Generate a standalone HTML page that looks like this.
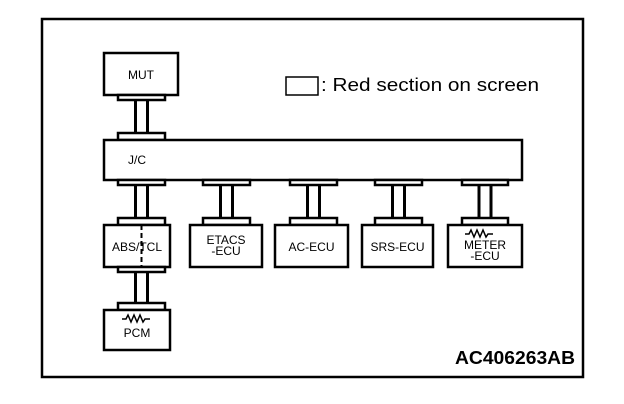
<!DOCTYPE html>
<html><head><style>body{margin:0;background:#fff}svg{display:block}</style></head><body>
<svg width="624" height="404" viewBox="0 0 624 404" xmlns="http://www.w3.org/2000/svg" font-family="Liberation Sans, sans-serif">
<rect x="42" y="19" width="541" height="358" fill="none" stroke="#000" stroke-width="2.5"/>
<g fill="#fff" stroke="#000" stroke-width="2.5">
<rect x="104" y="53" width="74" height="42"/>
<rect x="118" y="95" width="47" height="5"/>
<rect x="118" y="133" width="47" height="7"/>
<rect x="104" y="140" width="418" height="40"/>
<rect x="118" y="180" width="47" height="5"/>
<rect x="203" y="180" width="47" height="5"/>
<rect x="290" y="180" width="47" height="5"/>
<rect x="375" y="180" width="47" height="5"/>
<rect x="462" y="180" width="46" height="5"/>
<rect x="118" y="218" width="47" height="7"/>
<rect x="203" y="218" width="47" height="7"/>
<rect x="290" y="218" width="47" height="7"/>
<rect x="375" y="218" width="47" height="7"/>
<rect x="462" y="218" width="46" height="7"/>
<rect x="104" y="225" width="66" height="42"/>
<rect x="190" y="225" width="72" height="42"/>
<rect x="275" y="225" width="73" height="42"/>
<rect x="362" y="225" width="71" height="42"/>
<rect x="448" y="225" width="74" height="42"/>
<rect x="118" y="267" width="47" height="5"/>
<rect x="118" y="303" width="47" height="7"/>
<rect x="104" y="310" width="66" height="40"/>
<rect x="286" y="77" width="32" height="18" stroke-width="1.5"/>
</g>
<g stroke="#000" stroke-width="3">
<line x1="135.5" y1="100" x2="135.5" y2="133"/><line x1="147.5" y1="100" x2="147.5" y2="133"/>
<line x1="135.5" y1="185" x2="135.5" y2="218"/><line x1="147.5" y1="185" x2="147.5" y2="218"/>
<line x1="220.5" y1="185" x2="220.5" y2="218"/><line x1="232.5" y1="185" x2="232.5" y2="218"/>
<line x1="307.5" y1="185" x2="307.5" y2="218"/><line x1="319.5" y1="185" x2="319.5" y2="218"/>
<line x1="392.5" y1="185" x2="392.5" y2="218"/><line x1="404.5" y1="185" x2="404.5" y2="218"/>
<line x1="479" y1="185" x2="479" y2="218"/><line x1="491" y1="185" x2="491" y2="218"/>
<line x1="135.5" y1="272" x2="135.5" y2="303"/><line x1="147.5" y1="272" x2="147.5" y2="303"/>
</g>
<line x1="141.5" y1="225" x2="141.5" y2="267" stroke="#000" stroke-width="2" stroke-dasharray="5,3"/>
<g fill="none" stroke="#000" stroke-width="1.5">
<polyline points="122,319 126,319 128,315 131,322 134,315 137,322 140,315 143,322 145,319 150,319"/>
<polyline points="465,234 469,234 471,230 474,237 477,230 480,237 483,230 486,237 488,234 493,234"/>
</g>
<g font-size="12" text-anchor="middle" fill="#000">
<text x="141" y="79">MUT</text>
<text x="137" y="251">ABS/TCL</text>
<text x="226" y="244">ETACS</text><text x="226" y="255">-ECU</text>
<text x="311.5" y="251">AC-ECU</text>
<text x="397.5" y="251">SRS-ECU</text>
<text x="485" y="249">METER</text><text x="485" y="260">-ECU</text>
<text x="137" y="337">PCM</text>
</g>
<text x="128" y="164" font-size="12">J/C</text>
<text x="321" y="91" font-size="18" textLength="218" lengthAdjust="spacingAndGlyphs">: Red section on screen</text>
<text x="455" y="364" font-size="18" font-weight="bold" textLength="120" lengthAdjust="spacingAndGlyphs">AC406263AB</text>
</svg>
</body></html>
